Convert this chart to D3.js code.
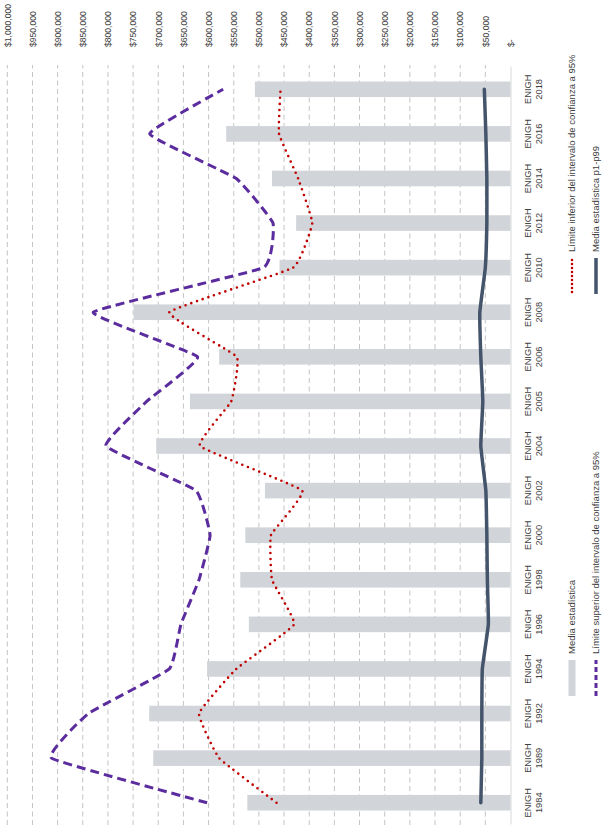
<!DOCTYPE html>
<html>
<head>
<meta charset="utf-8">
<script src="https://cdn.jsdelivr.net/npm/d3@7"></script>
<style>
  html, body { margin: 0; padding: 0; background: #fff; }
  svg { display: block; font-family: "Liberation Sans", Arial, sans-serif; }
</style>
</head>
<body>
<svg id="chart" width="606" height="826"></svg>
<script>
// ---- data ----
const categories = ["1984","1989","1992","1994","1996","1998","2000","2002","2004","2005","2006","2008","2010","2012","2014","2016","2018"];
const categoryPrefix = "ENIGH";
const mediaEstadistica = [523000,710000,718000,603000,520000,537000,527000,488000,704000,637000,579000,749000,459000,426000,474000,565000,508000];
const limiteSuperior  = [603000,912000,839000,678000,655000,619000,597000,625000,804000,723000,622000,829000,491000,472000,545000,717000,571000];
const limiteInferior  = [465000,579000,619000,545000,430000,474000,476000,414000,617000,555000,544000,678000,432000,394000,422000,460000,457000];
const mediaP1P99      = [59000,57000,57000,56000,44000,46000,47000,49000,59000,55000,59000,61000,50000,47000,47000,49000,52000];
const tickValues = [0,50000,100000,150000,200000,250000,300000,350000,400000,450000,500000,550000,600000,650000,700000,750000,800000,850000,900000,950000,1000000];
const legendLabels = ["Media estadística","Límite inferior del intervalo de confianza a 95%","Límite superior del intervalo de confianza a 95%","Media estadística p1-p99"];

// ---- layout (chart drawn unrotated in 826 x 606, then rotated -90deg) ----
const W = 826, H = 606;
const svg = d3.select("#chart");
const g = svg.append("g").attr("transform", `translate(0,${W}) rotate(-90)`);

const x = d3.scaleBand().domain(categories).range([1, 759]).paddingInner(0.65).paddingOuter(0.325);
const y = d3.scaleLinear().domain([0, 1000000]).range([510.5, 7.3]);

const textColor = "#404040";
const fmt = v => v === 0 ? "$-" : "$" + d3.format(",")(v);

// gridlines
g.append("g").selectAll("line").data(tickValues.filter(v => v > 0)).join("line")
  .attr("x1", 1).attr("x2", 761)
  .attr("y1", d => y(d)).attr("y2", d => y(d))
  .attr("stroke", "#c4c4c4").attr("stroke-width", 1).attr("stroke-dasharray", "5,3.5");

// value axis (right side, unrotated)
const yAxis = d3.axisRight(y).tickValues(tickValues).tickFormat(fmt).tickSize(0).tickPadding(0);
const ya = g.append("g").attr("transform", "translate(779,0)").call(yAxis);
ya.select(".domain").remove();
ya.selectAll("text").attr("fill", textColor).style("font-size", "8.6px").attr("x", 0);

// bars
g.append("g").selectAll("rect").data(categories).join("rect")
  .attr("x", d => x(d))
  .attr("width", x.bandwidth())
  .attr("y", (d, i) => y(mediaEstadistica[i]))
  .attr("height", (d, i) => y(0) - y(mediaEstadistica[i]))
  .attr("fill", "#d1d4d9");

// category axis
const xAxis = d3.axisBottom(x).tickSize(0).tickFormat("");
const xa = g.append("g").attr("transform", `translate(0,${y(0)})`).call(xAxis);
xa.select(".domain").attr("stroke", "#d9d9d9").attr("stroke-width", 1);
xa.selectAll(".tick").each(function(d) {
  const t = d3.select(this).append("text")
    .attr("text-anchor", "middle").attr("fill", textColor).style("font-size", "9.3px");
  t.append("tspan").attr("x", 0).attr("y", 20).text(categoryPrefix);
  t.append("tspan").attr("x", 0).attr("y", 31).text(d);
});

// lines
const lineGen = arr => d3.line()
  .x((d, i) => x(categories[i]) + x.bandwidth() / 2)
  .y(d => y(d))
  .curve(d3.curveCardinal.tension(0.7))(arr);

g.append("path").attr("d", lineGen(limiteInferior))
  .attr("fill", "none").attr("stroke", "#c00000").attr("stroke-width", 2.6)
  .attr("stroke-linecap", "round").attr("stroke-dasharray", "0,6");
g.append("path").attr("d", lineGen(limiteSuperior))
  .attr("fill", "none").attr("stroke", "#5b2c9e").attr("stroke-width", 3)
  .attr("stroke-dasharray", "9,5");
g.append("path").attr("d", lineGen(mediaP1P99))
  .attr("fill", "none").attr("stroke", "#44546a").attr("stroke-width", 3.5)
  .attr("stroke-linecap", "round");

// legend
const legendPos = [
  {u: 130, v: 572}, {u: 532, v: 572},
  {u: 130, v: 596}, {u: 532, v: 596}
];
const symLen = 36;
const leg = g.append("g");
legendLabels.forEach((lab, i) => {
  const p = legendPos[i];
  if (i === 0) {
    leg.append("rect").attr("x", p.u).attr("y", p.v - 3.5).attr("width", symLen).attr("height", 7).attr("fill", "#d1d4d9");
  } else if (i === 1) {
    leg.append("line").attr("x1", p.u + 2).attr("x2", p.u + symLen).attr("y1", p.v).attr("y2", p.v)
      .attr("stroke", "#c00000").attr("stroke-width", 2.6).attr("stroke-linecap", "round").attr("stroke-dasharray", "0,4");
  } else if (i === 2) {
    leg.append("line").attr("x1", p.u).attr("x2", p.u + symLen).attr("y1", p.v).attr("y2", p.v)
      .attr("stroke", "#5b2c9e").attr("stroke-width", 3).attr("stroke-dasharray", "5,3");
  } else {
    leg.append("line").attr("x1", p.u).attr("x2", p.u + symLen).attr("y1", p.v).attr("y2", p.v)
      .attr("stroke", "#44546a").attr("stroke-width", 3.5);
  }
  leg.append("text").attr("x", p.u + symLen + 6).attr("y", p.v).attr("dy", "0.35em")
    .attr("fill", textColor).style("font-size", "9.5px").text(lab);
});
</script>
</body>
</html>
